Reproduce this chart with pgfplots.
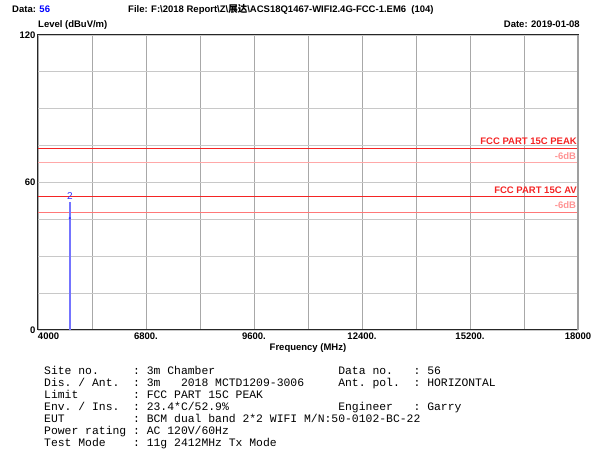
\documentclass[border=0pt]{standalone}
\usepackage{pgfplots}
\pgfplotsset{compat=1.18}
\usepackage{fontspec}
\setmainfont{Liberation Sans}
\setmonofont{Liberation Mono}
\newfontfamily\cjk{Noto Sans CJK SC}
\definecolor{limred}{RGB}{244,36,36}
\definecolor{limpink}{RGB}{255,168,168}
\definecolor{limpinkb}{RGB}{255,120,120}
\definecolor{txtpink}{RGB}{255,148,148}
\definecolor{trace}{RGB}{116,116,255}
\definecolor{markblue}{RGB}{52,52,255}
\definecolor{hgrid}{RGB}{200,200,200}
\definecolor{vgrid}{RGB}{168,168,168}
\newcommand{\hf}{\bfseries\fontsize{9.5}{10}\selectfont}
\newcommand{\mf}{\ttfamily\fontsize{11.4}{12}\selectfont}
\begin{document}
\begin{tikzpicture}
\useasboundingbox (0pt,0pt) rectangle (598pt,-454pt);
\begin{axis}[
  at={(38pt,-330pt)}, anchor=south west,
  scale only axis, width=540pt, height=295pt,
  xmin=4000, xmax=18000, ymin=0, ymax=120,
  scaled x ticks=false, scaled y ticks=false,
  xtick={4000,5400,...,18000},
  xticklabels={\makebox[0pt][l]{4000},,6800.,,9600.,,12400.,,15200.,,18000},
  ytick={0,15,...,120},
  yticklabels={0,,,,60,,,,120},
  major tick length=0pt,
  tick label style={font=\hf},
  /pgf/number format/assume math mode=true,
  xticklabel style={yshift=1pt},
  yticklabel style={xshift=1pt},
  xmajorgrids, ymajorgrids,
  x grid style={vgrid, line width=0.8pt},
  y grid style={hgrid, line width=1.1pt},
  axis line style={black!85, line width=1pt},
  clip=false,
  after end axis/.code={
    \draw[gray!75, line width=2.2pt] (rel axis cs:1,0) -- (rel axis cs:1,1);
  },
]
\addplot[color=limred, line width=1pt, mark=none] coordinates {(4000,74) (18000,74)};
\addplot[color=limpink, line width=1pt, mark=none] coordinates {(4000,68) (18000,68)};
\addplot[color=limred, line width=1pt, mark=none] coordinates {(4000,54.2) (18000,54.2)};
\addplot[color=limpinkb, line width=0.9pt, mark=none] coordinates {(4000,48) (18000,48)};
\addplot[color=trace, line width=1.6pt, mark=none] coordinates {(4824,0) (4824,52.2)}
  node[pos=1, above, text=markblue, font=\fontsize{10}{10}\selectfont, inner sep=1.5pt] {2};
\addplot[only marks, mark=*, mark size=0.9pt, color=markblue] coordinates {(4824,45.5)};
\node[anchor=south east, text=limred, font=\hf, inner sep=1pt] at (axis cs:18000,75) {FCC PART 15C PEAK};
\node[anchor=north east, text=txtpink, font=\hf, inner sep=1pt] at (axis cs:17980,72.5) {-6dB};
\node[anchor=south east, text=limred, font=\hf, inner sep=1pt] at (axis cs:18000,55.2) {FCC PART 15C AV};
\node[anchor=north east, text=txtpink, font=\hf, inner sep=1pt] at (axis cs:17980,52.7) {-6dB};
\end{axis}
% header
\node[anchor=mid west, font=\hf, inner sep=0pt] at (12pt,-10pt) {Data: \textcolor{blue}{56}};
\node[anchor=mid west, font=\hf, inner sep=0pt] at (128pt,-10pt) {File: F:\textbackslash 2018 Report\textbackslash Z\textbackslash{\cjk\bfseries 展达}\textbackslash ACS18Q1467-WIFI2.4G-FCC-1.EM6\ \ (104)};
\node[anchor=mid west, font=\hf, inner sep=0pt] at (38pt,-25pt) {Level (dBuV/m)};
\node[anchor=mid east, font=\hf, inner sep=0pt] at (580pt,-25pt) {Date: 2019-01-08};
\node[font=\hf, inner sep=0pt] at (308pt,-348pt) {Frequency (MHz)};
% info block
\foreach \i/\a/\b in {0/{Site no.}/{3m Chamber},
                      1/{Dis. / Ant.}/{3m\ \ \ 2018 MCTD1209-3006},
                      2/{Limit}/{FCC PART 15C PEAK},
                      3/{Env. / Ins.}/{23.4*C/52.9\%},
                      4/{EUT}/{BCM dual band 2*2 WIFI M/N:50-0102-BC-22},
                      5/{Power rating}/{AC 120V/60Hz},
                      6/{Test Mode}/{11g 2412MHz Tx Mode}} {
  \node[anchor=mid west, font=\mf, inner sep=0pt] at (44pt,-372pt-11.9pt*\i) {\a};
  \node[anchor=mid west, font=\mf, inner sep=0pt] at (132.9pt,-372pt-11.9pt*\i) {:};
  \node[anchor=mid west, font=\mf, inner sep=0pt] at (146.6pt,-372pt-11.9pt*\i) {\b};
}
\foreach \i/\a/\b in {0/{Data no.}/{56}, 1/{Ant. pol.}/{HORIZONTAL}, 3/{Engineer}/{Garry}} {
  \node[anchor=mid west, font=\mf, inner sep=0pt] at (338.1pt,-372pt-11.9pt*\i) {\a};
  \node[anchor=mid west, font=\mf, inner sep=0pt] at (413.4pt,-372pt-11.9pt*\i) {:};
  \node[anchor=mid west, font=\mf, inner sep=0pt] at (427.1pt,-372pt-11.9pt*\i) {\b};
}
\end{tikzpicture}
\end{document}
